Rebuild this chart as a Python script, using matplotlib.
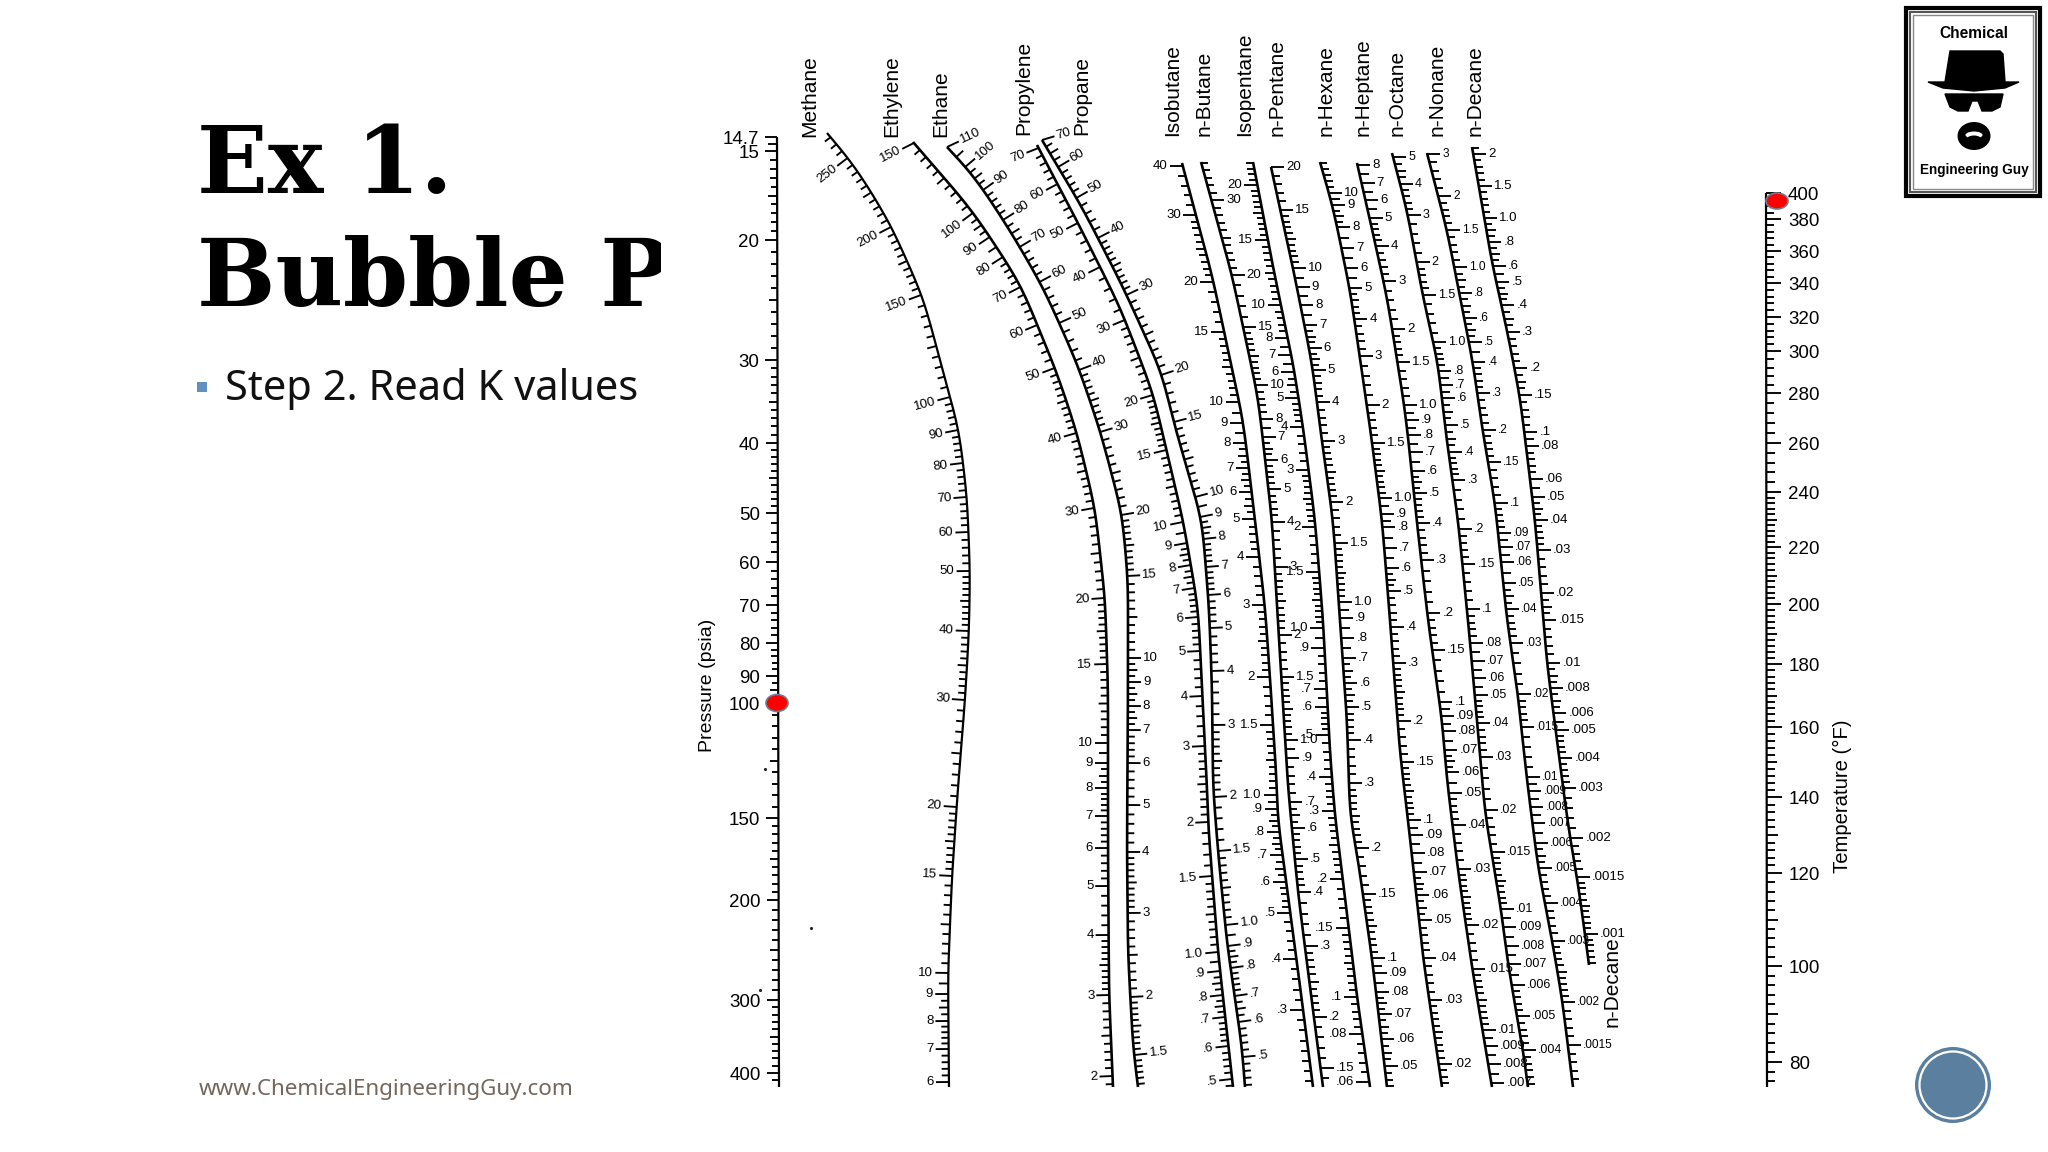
#!/usr/bin/env python
import numpy as np
import matplotlib
matplotlib.use('Agg')
import matplotlib.pyplot as plt
from matplotlib.collections import LineCollection
from matplotlib.patches import Ellipse, Circle, Rectangle

plt.rcParams['font.family'] = ['Liberation Sans', 'DejaVu Sans']

#########################################################################################################
# readings off the nomograph: tick labels, tick height, and a few points along each curve (picture px)

pressure_lab = ['14.7','15','20','30','40','50','60','70','80','90','100','150','200','300','400']
pressure_y = [137,151,240,360,443,513,562,605,643,676,703,818,900,1000,1073]
pressure_cx = [777,779]
pressure_cy = [137,1087]

temp_lab = ['400','380','360','340','320','300','280','260','240','220','200','180','160','140','120','100','80']
temp_y = [193,219,251,283,317,351,393,443,492,547,604,664,727,797,873,966,1062]
temp_cx = [1766,1767]
temp_cy = [193,1087]

methane_lab = ['250','200','150','100','90','80','70','60','50','40','30','20','15','10','9','8','7','6']
methane_y = [158,227,295,397,430,463,497,532,571,631,700,807,876,973,994,1021,1049,1082]
methane_cx = [827,853,890,923,950,959,967,970,969,965,958,952,948,949]
methane_cy = [133,163,223,297,397,430,497,571,631,700,787,876,973,1087]

ethylene_lab = ['150','100','90','80','70','60','50','40','30','20','15','10','9','8','7','6','5','4','3','2']
ethylene_y = [143,213,237,257,287,325,368,433,508,598,664,743,763,788,816,848,886,935,995,1076]
ethylene_cx = [913,972,1020,1057,1077,1095,1105,1108,1108,1109,1113]
ethylene_cy = [142,210,283,373,433,508,598,687,847,993,1087]

ethane_lab = ['110','100','90','80','70','60','50','40','30','20','15','10','9','8','7','6','5','4','3','2','1.5']
ethane_y = [147,167,190,220,247,282,323,370,432,515,576,658,682,706,730,763,805,852,913,997,1055]
ethane_cx = [947,970,1008,1043,1077,1100,1122,1128,1128,1127,1128,1133,1138]
ethane_cy = [147,170,227,287,363,430,513,580,687,847,953,1047,1087]

propylene_lab = ['70','60','50','40','30','20','15','10','9','8','7','6','5','4','3','2','1.5','1.0','.9','.8','.7','.6','.5']
propylene_y = [148,184,223,267,320,395,450,522,543,565,588,617,651,696,746,822,876,952,971,995,1017,1046,1079]
propylene_cx = [1037,1078,1120,1153,1183,1198,1202,1207,1208,1218,1233]
propylene_cy = [145,223,307,393,520,607,687,787,823,952,1087]

propane_lab = ['70','60','50','40','30','20','15','10','9','8','7','6','5','4','3','2','1.5','1.0','.9','.8','.7','.6','.5']
propane_y = [140,167,198,238,295,375,422,497,517,539,567,595,628,671,725,797,851,925,946,968,996,1022,1057]
propane_cx = [1042,1082,1123,1162,1173,1202,1209,1212,1213,1218,1227,1242,1245]
propane_cy = [140,207,287,373,420,520,607,687,787,851,943,1047,1087]

isobutane_lab = ['40','30','20','15','10','9','8','7','6','5','4','3','2','1.5','1.0','.9','.8','.7','.6','.5','.4','.3']
isobutane_y = [166,215,282,332,402,423,443,468,492,519,557,605,677,725,795,809,832,855,882,913,959,1010]
isobutane_cx = [1182,1212,1243,1255,1265,1270,1277,1277,1297,1313]
isobutane_cy = [163,275,420,520,607,678,787,813,963,1087]

nbutane_lab = ['30','20','15','10','8','7','6','5','4','3','2','1.5','1.0','.9','.7','.6','.5','.4','.3','.2','.15']
nbutane_y = [200,275,327,385,419,437,460,489,522,567,635,677,740,758,802,828,859,892,946,1017,1068]
nbutane_cx = [1201,1232,1258,1272,1277,1282,1288,1298,1310,1323]
nbutane_cy = [162,275,397,520,607,687,787,892,987,1087]

isopentane_lab = ['20','15','10','8','7','6','5','4','3','2','1.5','1.0','.9','.7','.6','.5','.4','.3','.2','.15','.1','.08','.06']
isopentane_y = [185,240,305,338,355,372,398,427,470,527,572,628,648,689,707,735,777,811,879,928,997,1034,1082]
isopentane_cx = [1253,1273,1293,1303,1315,1323,1330,1335,1343,1357,1370]
isopentane_cy = [162,267,363,427,520,620,753,817,880,997,1087]

npentane_lab = ['20','15','10','9','8','7','6','5','4','3','2','1.5','1.0','.9','.8','.7','.6','.5','.4','.3','.2','.15','.1','.09','.08','.07','.06','.05']
npentane_y = [167,210,268,287,305,325,348,370,402,441,502,543,602,618,638,658,683,707,740,783,848,894,958,973,992,1014,1039,1066]
npentane_cx = [1271,1293,1312,1320,1333,1340,1347,1350,1357,1372,1387]
npentane_cy = [167,268,363,427,520,620,720,817,853,958,1087]

nhexane_lab = ['10','9','8','7','6','5','4','3','2','1.5','1.0','.9','.8','.7','.6','.5','.4','.3','.2','.15','.1','.09','.08','.07','.06','.05','.04','.03','.02']
nhexane_y = [193,205,227,248,268,288,319,356,405,443,498,514,527,548,568,591,627,663,721,762,820,835,853,872,895,920,958,1000,1064]
nhexane_cx = [1320,1333,1350,1370,1382,1390,1400,1408,1423,1442]
nhexane_cy = [162,207,290,427,520,620,753,820,957,1087]

nheptane_lab = ['8','7','6','5','4','3','2','1.5','1.0','.9','.8','.7','.6','.5','.4','.3','.2','.15','.1','.09','.08','.07','.06','.05','.04','.03','.02','.015','.01','.009','.008','.007']
nheptane_y = [165,183,200,218,246,281,329,362,405,420,435,452,471,493,523,560,613,650,702,716,731,750,772,793,825,869,925,969,1030,1046,1064,1083]
nheptane_cx = [1357,1370,1387,1403,1407,1417,1428,1442,1447,1458,1472,1492]
nheptane_cy = [163,220,297,397,427,523,620,720,780,870,967,1087]

noctane_lab = ['5','4','3','2','1.5','1.0','.8','.7','.6','.5','.4','.3','.2','.15','.1','.08','.07','.06','.05','.04','.03','.02','.015','.01','.009','.008','.007','.006','.005','.004']
noctane_y = [157,184,215,262,295,342,371,385,398,425,452,480,529,564,609,643,661,678,695,723,757,810,852,909,927,946,964,985,1016,1050]
noctane_cx = [1392,1407,1423,1438,1445,1458,1468,1477,1485,1501,1508,1517,1523,1528]
noctane_cy = [153,210,297,363,427,520,620,720,813,909,964,1016,1050,1087]

nnonane_lab = ['3','2','1.5','1.0','.8','.6','.5','.4','.3','.2','.15','.1','.09','.07','.06','.05','.04','.03','.02','.015','.01','.009','.008','.007','.006','.005','.004','.003','.002','.0015']
nnonane_y = [154,196,230,267,293,318,342,362,393,430,462,503,533,547,562,583,609,643,694,727,777,791,807,823,843,868,903,941,1002,1045]
nnonane_cx = [1427,1447,1460,1473,1482,1495,1507,1517,1527,1538,1552,1562,1573]
nnonane_cy = [153,230,297,363,427,503,620,687,780,867,940,998,1087]

ndecane_lab = ['2','1.5','1.0','.8','.6','.5','.4','.3','.2','.15','.1','.08','.06','.05','.04','.03','.02','.015','.01','.008','.006','.005','.004','.003','.002','.0015','.001']
ndecane_y = [154,186,218,242,266,282,305,332,368,395,432,446,479,497,520,550,593,620,663,688,713,730,758,788,838,877,934]
ndecane_cx = [1472,1492,1507,1520,1535,1547,1563,1570,1577,1585,1589]
ndecane_cy = [147,263,330,397,520,663,787,838,877,934,965]

curve_names = ['Methane','Ethylene','Ethane','Propylene','Propane','Isobutane','n-Butane','Isopentane','n-Pentane','n-Hexane','n-Heptane','n-Octane','n-Nonane','n-Decane']
name_x = [810,892,941,1024,1082,1173,1204,1245,1277,1326,1363,1397,1437,1475]
name_y = [137,137,137,135,135,136,136,136,136,136,136,136,136,136]

#########################################################################################################

fig = plt.figure(figsize=(20.48, 11.52), dpi=100, facecolor='white')
ax = fig.add_axes([0, 0, 1, 1])
ax.set_xlim(0, 2048)
ax.set_ylim(1152, 0)
ax.axis('off')

def subdiv(d, gap=5.5):
    for n in (10, 5, 4, 2):
        if d / n >= gap:
            return n
    return 1

def smooth(cx, cy, win=41):
    # round off the corners of the read polyline
    yy = np.arange(cy[0], cy[-1] + 1.0)
    xx = np.interp(yy, cy, cx)
    pad = win
    left = 2 * xx[0] - xx[pad:0:-1]
    right = 2 * xx[-1] - xx[-2:-pad-2:-1]
    full = np.concatenate([left, xx, right])
    box = np.ones(win) / win
    full = np.convolve(np.convolve(full, box, mode='same'), box, mode='same')
    return yy, full[pad:pad+len(xx)]

def scale(lab, ys, cx, cy, side=1, fs=9.5, tilt=False, ln=13, lgap=2, lw=1.9, yoff=0):
    # side 1 ticks to the right, -1 to the left
    cy, cx = smooth(cx, cy)
    ax.plot(cx, cy, color='k', lw=lw, solid_capstyle='butt', zorder=3)
    ys = np.array(ys, float)
    allt = []
    for i in range(len(ys) - 1):
        n = subdiv(ys[i+1] - ys[i])
        step = (ys[i+1] - ys[i]) / n
        for k in range(1, n):
            size = 0.72 if (n % 2 == 0 and k == n // 2) else 0.55
            allt.append((ys[i] + k * step, size))
    step = (ys[-1] - ys[-2]) / subdiv(ys[-1] - ys[-2])
    y = ys[-1] + step
    while y < cy[-1]:
        allt.append((y, 0.55))
        y += step
    step = (ys[1] - ys[0]) / subdiv(ys[1] - ys[0])
    y = ys[0] - step
    while y > cy[0]:
        allt.append((y, 0.55))
        y -= step

    def normal(y):
        if not tilt:
            return 1.0, 0.0
        dx = np.interp(y + 6, cy, cx) - np.interp(y - 6, cy, cx)
        a = np.arctan2(dx, 12.0)
        return np.cos(a), -np.sin(a)

    segs = []
    for y, size in allt:
        x = np.interp(y, cy, cx)
        nx, ny = normal(y)
        segs.append([(x, y), (x + side * nx * ln * size, y + side * ny * ln * size)])
    for y, t in zip(ys, lab):
        x = np.interp(y, cy, cx)
        nx, ny = normal(y)
        x1, y1 = x + side * nx * ln, y + side * ny * ln
        segs.append([(x, y), (x1, y1)])
        rot = np.degrees(np.arctan2(-ny, nx))
        ax.text(x1 + side * nx * lgap, y1 + side * ny * lgap + yoff, t, fontsize=fs, color='k',
                ha='left' if side > 0 else 'right', va='center', rotation=rot,
                rotation_mode='anchor', zorder=3)
    ax.add_collection(LineCollection(segs, colors='k', linewidths=1.35, zorder=3))

# title and bullet
ax.text(197, 193, 'Ex 1.', fontsize=67, fontweight='bold', family='DejaVu Serif', color='k', zorder=1)
ax.text(197, 306, 'Bubble P', fontsize=67, fontweight='bold', family='DejaVu Serif', color='k', zorder=1)
ax.add_patch(Rectangle((661, 90), 40, 240, fc='white', ec='none', zorder=2))
ax.add_patch(Rectangle((197, 382), 10, 10, fc='#5f91bf', ec='none'))
ax.text(225, 400, 'Step 2. Read K values', fontsize=30, family='Noto Sans', color='#111111')
ax.text(199, 1095, 'www.ChemicalEngineeringGuy.com', fontsize=16.1, family='Noto Sans', color='#75665c')

# straight axes
scale(pressure_lab, pressure_y, pressure_cx, pressure_cy, side=-1, fs=13.5, ln=12, lgap=6, lw=1.6, yoff=2.5)
scale(temp_lab, temp_y, temp_cx, temp_cy, side=1, fs=13.5, ln=15, lgap=7, lw=1.6, yoff=2.5)

# curved scales
scale(methane_lab, methane_y, methane_cx, methane_cy, side=-1, tilt=True, lw=1.6)
scale(ethylene_lab, ethylene_y, ethylene_cx, ethylene_cy, side=-1, tilt=True)
scale(ethane_lab, ethane_y, ethane_cx, ethane_cy, side=1, tilt=True)
scale(propylene_lab, propylene_y, propylene_cx, propylene_cy, side=-1, tilt=True)
scale(propane_lab, propane_y, propane_cx, propane_cy, side=1, tilt=True)
scale(isobutane_lab, isobutane_y, isobutane_cx, isobutane_cy, side=-1)
scale(nbutane_lab, nbutane_y, nbutane_cx, nbutane_cy, side=1)
scale(isopentane_lab, isopentane_y, isopentane_cx, isopentane_cy, side=-1)
scale(npentane_lab, npentane_y, npentane_cx, npentane_cy, side=1)
scale(nhexane_lab, nhexane_y, nhexane_cx, nhexane_cy, side=1)
scale(nheptane_lab, nheptane_y, nheptane_cx, nheptane_cy, side=1)
scale(noctane_lab, noctane_y, noctane_cx, noctane_cy, side=1, fs=9)
scale(nnonane_lab, nnonane_y, nnonane_cx, nnonane_cy, side=1, fs=8.6)
scale(ndecane_lab, ndecane_y, ndecane_cx, ndecane_cy, side=1)

for t, x, y in zip(curve_names, name_x, name_y):
    ax.text(x, y, t, fontsize=15, rotation=90, ha='center', va='bottom', color='k', zorder=3)
ax.text(1612, 1027, 'n-Decane', fontsize=15, rotation=90, ha='center', va='bottom', zorder=3)
ax.text(707, 752, 'Pressure (psia)', fontsize=14, rotation=90, ha='center', va='bottom', zorder=3)
ax.text(1842, 873, 'Temperature (°F)', fontsize=14.6, rotation=90, ha='center', va='bottom', zorder=3)

# scan specks
ax.plot([811, 765, 760], [928, 769, 990], ls='none', marker='.', ms=2.5, color='#222222', zorder=3)

# red markers
ax.add_patch(Ellipse((777, 703), 22, 17, fc='#ff0000', ec='#6f7d92', lw=1.2, zorder=5))
ax.add_patch(Ellipse((1777, 201), 22, 16, fc='#ff0000', ec='#6f7d92', lw=1.2, zorder=5))

# logo
ax.add_patch(Rectangle((1906, 8), 134, 188, fc='white', ec='k', lw=3, zorder=4))
ax.add_patch(Rectangle((1910, 12), 126, 180, fc='white', ec='#555555', lw=1.5, zorder=4))
ax.add_patch(Rectangle((1913, 15), 120, 174, fc='white', ec='#888888', lw=1, zorder=4))
ax.text(1974, 33, 'Chemical', fontsize=11.2, fontweight='bold', ha='center', va='center', zorder=5)
ax.text(1974, 170, 'Engineering Guy', fontsize=9.8, fontweight='bold', ha='center', va='center', zorder=5)
ax.fill([1945, 1950, 2000, 2003, 2005, 2019, 2005, 1974, 1943, 1928, 1943],
        [82, 51, 51, 54, 82, 82, 88, 91, 88, 82, 82], color='k', zorder=5)
ax.fill([1945, 2003, 2000, 1992, 1982, 1978, 1972, 1968, 1958, 1950],
        [94, 94, 107, 111, 111, 101, 101, 111, 111, 107], color='k', zorder=5)
ax.add_patch(Ellipse((1974, 136), 33, 28, fc='k', ec='none', zorder=5))
ax.add_patch(Ellipse((1974, 135), 17, 7, fc='white', ec='none', zorder=6))
ax.add_patch(Ellipse((1974, 139), 14, 7, fc='k', ec='none', zorder=6))

# round badge
ax.add_patch(Circle((1953, 1085), 38, fc='#5b7f9e', ec='none', zorder=4))
ax.add_patch(Circle((1953, 1085), 33.5, fc='#5b7f9e', ec='white', lw=1.6, zorder=5))

fig.savefig('out.png', dpi=100)
plt.close('all')
